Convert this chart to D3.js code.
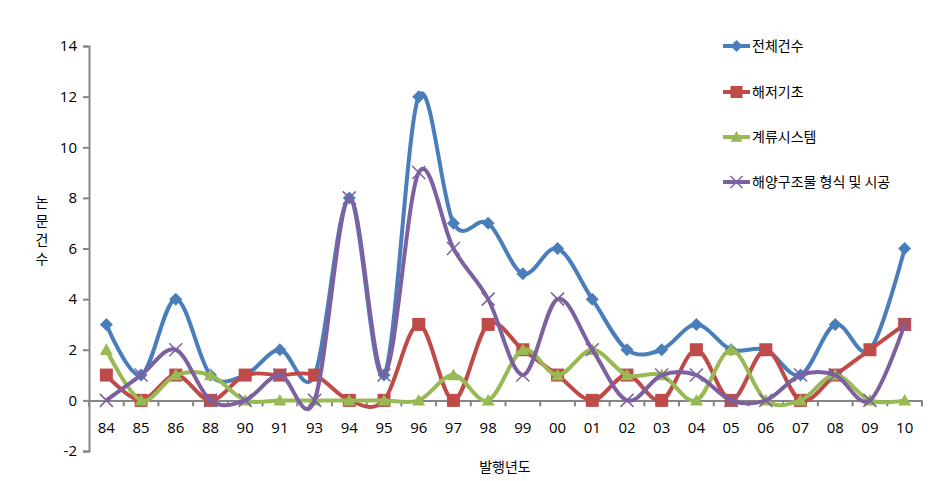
<!DOCTYPE html>
<html><head><meta charset="utf-8">
<script src="https://cdn.jsdelivr.net/npm/d3@7"></script>
<style>
body{margin:0;background:#fff;}
svg{display:block;}
text{font-family:"Open Sans","Noto Sans",sans-serif;}
.kr{font-family:"Noto Sans CJK KR","Noto Sans",sans-serif;}
</style></head>
<body>
<svg id="chart" width="952" height="481"></svg>
<script>
const categories = ["84","85","86","88","90","91","93","94","95","96","97","98","99","00","01","02","03","04","05","06","07","08","09","10"];
const seriesNames = ["전체건수","해저기초","계류시스템","해양구조물 형식 및 시공"];
const total     = [3,1,4,1,1,2,1,8,1,12,7,7,5,6,4,2,2,3,2,2,1,3,2,6];
const seabed    = [1,0,1,0,1,1,1,0,0,3,0,3,2,1,0,1,0,2,0,2,0,1,2,3];
const mooring   = [2,0,1,1,0,0,0,0,0,0,1,0,2,1,2,1,1,0,2,0,0,1,0,0];
const structure = [0,1,2,0,0,1,0,8,1,9,6,4,1,4,2,0,1,1,0,0,1,1,0,3];
const yTicks = [-2,0,2,4,6,8,10,12,14];
const xTitle = "발행년도";
const yTitle = ["논","문","건","수"];

const seriesValues = [total, seabed, mooring, structure];
const colors = ["#4A7EBB","#BE4B48","#98B954","#7D60A0"];
const markers = ["diamond","square","triangle","x"];

const svg = d3.select("#chart");
const L = 89, R = 922, T = 46, B = 451;
const x = d3.scaleBand().domain(categories).range([L, R]);
const y = d3.scaleLinear().domain([-2, 14]).range([B, T]);
const axisColor = "#868686";

// y axis
const ya = svg.append("g").attr("transform", `translate(${L},0)`)
  .call(d3.axisLeft(y).tickValues(yTicks).tickFormat(d => String(d)).tickSize(6).tickPadding(6));
ya.select(".domain").attr("stroke", axisColor).attr("stroke-width", 2);
ya.selectAll(".tick line").attr("stroke", axisColor).attr("stroke-width", 2);
ya.selectAll(".tick text").attr("font-size", 15).attr("fill", "#000")
  .style("font-family", "'Open Sans',sans-serif");

// x axis at y=0
const xa = svg.append("g").attr("transform", `translate(0,${y(0)})`)
  .call(d3.axisBottom(x).tickSize(0).tickPadding(22));
xa.select(".domain").attr("stroke", axisColor).attr("stroke-width", 2);
xa.selectAll(".tick text").attr("font-size", 15).attr("fill", "#000")
  .style("font-family", "'Open Sans',sans-serif");
// tick marks at band boundaries
const bounds = categories.map(c => x(c)).concat([x(categories[categories.length-1]) + x.bandwidth()]);
svg.append("g").selectAll("line").data(bounds).join("line")
  .attr("x1", d => d).attr("x2", d => d)
  .attr("y1", y(0)).attr("y2", y(0) + 6)
  .attr("stroke", axisColor).attr("stroke-width", 2);

// titles
svg.append("text").attr("class", "kr").attr("x", 505).attr("y", 472)
  .attr("text-anchor", "middle").attr("font-size", 14).attr("fill", "#000").text(xTitle);
svg.append("g").selectAll("text").data(yTitle).join("text").attr("class", "kr")
  .attr("x", 42).attr("y", (d, i) => 207 + i * 19)
  .attr("text-anchor", "middle").attr("font-size", 14).attr("fill", "#000").text(d => d);

const cx = c => x(c) + x.bandwidth() / 2;
const line = d3.line().x((d, i) => cx(categories[i])).y(d => y(d))
  .curve(d3.curveCardinal.tension(0));

function drawMarker(g, type, px, py, color, s) {
  if (type === "diamond") {
    g.append("path").attr("d", `M${px},${py - s}L${px + s},${py}L${px},${py + s}L${px - s},${py}Z`).attr("fill", color);
  } else if (type === "square") {
    g.append("rect").attr("x", px - s).attr("y", py - s).attr("width", 2 * s).attr("height", 2 * s).attr("fill", color);
  } else if (type === "triangle") {
    g.append("path").attr("d", `M${px},${py - s}L${px + s},${py + s * 0.8}L${px - s},${py + s * 0.8}Z`).attr("fill", color);
  } else {
    g.append("path").attr("d", `M${px - s},${py - s}L${px + s},${py + s}M${px - s},${py + s}L${px + s},${py - s}`)
      .attr("stroke", color).attr("stroke-width", 1.5).attr("fill", "none");
  }
}

seriesValues.forEach((vals, si) => {
  const g = svg.append("g");
  g.append("path").attr("d", line(vals)).attr("fill", "none")
    .attr("stroke", colors[si]).attr("stroke-width", 4).attr("stroke-linejoin", "round");
  vals.forEach((v, i) => drawMarker(g, markers[si], cx(categories[i]), y(v), colors[si], 6.5));
});

// legend
const legY = [46, 92, 137, 182];
seriesNames.forEach((n, i) => {
  const g = svg.append("g");
  g.append("line").attr("x1", 723).attr("x2", 750).attr("y1", legY[i]).attr("y2", legY[i])
    .attr("stroke", colors[i]).attr("stroke-width", 4);
  drawMarker(g, markers[i], 736.5, legY[i], colors[i], 6);
  g.append("text").attr("class", "kr").attr("x", 752).attr("y", legY[i] + 5)
    .attr("font-size", 14).attr("fill", "#000").text(n);
});
</script>
</body></html>
